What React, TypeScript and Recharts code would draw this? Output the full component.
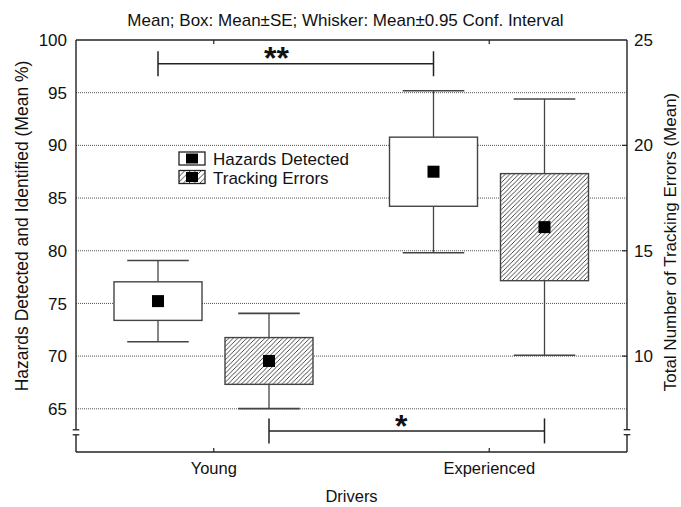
import React from "react";
import { ComposedChart, Bar, XAxis, YAxis, CartesianGrid, Legend } from "recharts";

// values
const categories = ["Young", "Experienced"];
const hazardsMean = [75.22, 87.5];
const hazardsSE = [1.83, 3.28];
const hazardsCI = [3.85, 7.69];
const trackingMean = [9.77, 16.12];
const trackingSE = [1.11, 2.54];
const trackingCI = [2.26, 6.08];

const leftTicks = [65, 70, 75, 80, 85, 90, 95, 100];
const rightTicks = [10, 15, 20, 25];
const gridValues = [65, 70, 75, 80, 85, 90, 95];
const leftBreak = 62.77;
const rightBreak = 6.39;

const brackets = [
  { series: "hazards", from: 0, to: 1, level: 97.75, label: "**", labelAt: 0.43 },
  { series: "tracking", from: 0, to: 1, level: 6.45, label: "*", labelAt: 0.48 },
];

const TITLE = "Mean; Box: Mean±SE; Whisker: Mean±0.95 Conf. Interval";

// layout
const W = 681;
const H = 507;
const LEFT_W = 76;
const RIGHT_W = 54;
const PLOT_W = W - LEFT_W - RIGHT_W;
const STEP = PLOT_W / categories.length;
const FONT = "'Liberation Sans', Arial, Helvetica, sans-serif";
const INK = "#111";
const EDGE = "#444";

const rows = categories.map((name, i) => ({
  name,
  hMean: hazardsMean[i],
  hBox: [hazardsMean[i] - hazardsSE[i], hazardsMean[i] + hazardsSE[i]],
  hCI: [hazardsMean[i] - hazardsCI[i], hazardsMean[i] + hazardsCI[i]],
  tMean: trackingMean[i],
  tBox: [trackingMean[i] - trackingSE[i], trackingMean[i] + trackingSE[i]],
  tCI: [trackingMean[i] - trackingCI[i], trackingMean[i] + trackingCI[i]],
}));

const Hatch = ({ id, size = 4.5 }: { id: string; size?: number }) => (
  <defs>
    <pattern id={id} patternUnits="userSpaceOnUse" width={size} height={size}>
      <rect width={size} height={size} fill="#fff" />
      <line x1={0} y1={size} x2={size} y2={0} stroke="#333" strokeWidth={0.9} />
      <line x1={-1} y1={1} x2={1} y2={-1} stroke="#333" strokeWidth={0.9} />
      <line x1={size - 1} y1={size + 1} x2={size + 1} y2={size - 1} stroke="#333" strokeWidth={0.9} />
    </pattern>
  </defs>
);

function BoxShape(props: any) {
  const { x, y, width, height, payload, series } = props;
  const idx = categories.indexOf(payload.name);
  const isH = series === "hazards";
  const [lo, hi] = isH ? payload.hBox : payload.tBox;
  const [ciLo, ciHi] = isH ? payload.hCI : payload.tCI;
  const mean = isH ? payload.hMean : payload.tMean;

  const yHi = Math.min(y, y + height);
  const yLo = Math.max(y, y + height);
  const ppu = (yLo - yHi) / (hi - lo);
  const toPx = (v: number) => yHi + (hi - v) * ppu;

  const cx = x + width / 2;
  const cap = width * 0.35;
  const hatchId = `hatch-${series}-${idx}`;
  const yCiHi = toPx(ciHi);
  const yCiLo = toPx(ciLo);
  const yMean = toPx(mean);

  return (
    <g>
      {!isH && <Hatch id={hatchId} />}
      <line x1={cx} x2={cx} y1={yCiHi} y2={yHi} stroke={EDGE} strokeWidth={1.3} />
      <line x1={cx} x2={cx} y1={yLo} y2={yCiLo} stroke={EDGE} strokeWidth={1.3} />
      <line x1={cx - cap} x2={cx + cap} y1={yCiHi} y2={yCiHi} stroke={EDGE} strokeWidth={1.6} />
      <line x1={cx - cap} x2={cx + cap} y1={yCiLo} y2={yCiLo} stroke={EDGE} strokeWidth={1.6} />
      <rect
        x={x}
        y={yHi}
        width={width}
        height={yLo - yHi}
        fill={isH ? "#fff" : `url(#${hatchId})`}
        stroke={EDGE}
        strokeWidth={1.4}
      />
      <rect x={cx - 6} y={yMean - 6} width={12} height={12} fill="#000" />
      {brackets
        .filter((b) => b.series === series && b.to === idx)
        .map((b) => {
          const x0 = cx - (b.to - b.from) * STEP;
          const yb = toPx(b.level);
          return (
            <g key={b.label}>
              <line x1={x0} x2={cx} y1={yb} y2={yb} stroke="#222" strokeWidth={1.5} />
              <line x1={x0} x2={x0} y1={yb - 12.5} y2={yb + 12.5} stroke="#222" strokeWidth={1.5} />
              <line x1={cx} x2={cx} y1={yb - 12.5} y2={yb + 12.5} stroke="#222" strokeWidth={1.5} />
              <text
                x={x0 + b.labelAt * (cx - x0)}
                y={yb + 5.6}
                textAnchor="middle"
                fontSize={32}
                fontWeight="bold"
                fill={INK}
              >
                {b.label}
              </text>
            </g>
          );
        })}
    </g>
  );
}

const AxisBreak = ({ x, y }: { x: number; y: number }) => (
  <g>
    <rect x={x - 3.5} y={y - 2.5} width={7} height={5} fill="#fff" />
    <line x1={x - 3.3} x2={x + 3.3} y1={y - 2.5} y2={y - 2.5} stroke="#222" strokeWidth={1.3} />
    <line x1={x - 3.3} x2={x + 3.3} y1={y + 2.5} y2={y + 2.5} stroke="#222" strokeWidth={1.3} />
  </g>
);

function LeftTick({ x, y, payload }: any) {
  const axisX = x + 9;
  if (payload.value === leftBreak) return <AxisBreak x={axisX} y={y} />;
  return (
    <text x={x} y={y} dy="0.36em" textAnchor="end" fontSize={17} fill={INK}>
      {payload.value}
    </text>
  );
}

function RightTick({ x, y, payload }: any) {
  const axisX = x - 6;
  if (payload.value === rightBreak) return <AxisBreak x={axisX} y={y} />;
  return (
    <g>
      {payload.value !== 25 && (
        <line x1={axisX - 5} x2={axisX} y1={y} y2={y} stroke="#222" strokeWidth={1.2} />
      )}
      <text x={x + 1} y={y} dy="0.36em" textAnchor="start" fontSize={17} fill={INK}>
        {payload.value}
      </text>
    </g>
  );
}

function BottomTick({ x, y, payload }: any) {
  const axisY = y - 22;
  return (
    <g>
      <line x1={x} x2={x} y1={axisY} y2={axisY - 4} stroke="#222" strokeWidth={1.2} />
      <text x={x} y={axisY + 22} textAnchor="middle" fontSize={16.5} fill={INK}>
        {payload.value}
      </text>
    </g>
  );
}

function TopTick({ x, y }: any) {
  return <line x1={x} x2={x} y1={y} y2={y + 4} stroke="#222" strokeWidth={1.2} />;
}

function LegendBox() {
  return (
    <svg width={190} height={40} style={{ display: "block" }}>
      <Hatch id="hatch-legend" size={5.5} />
      <rect x={1} y={2} width={26} height={13} fill="#fff" stroke="#222" strokeWidth={1.3} />
      <rect x={8} y={3.5} width={12} height={10} fill="#000" />
      <text x={35} y={15} fontSize={17} fill={INK} fontFamily={FONT}>
        Hazards Detected
      </text>
      <rect x={1} y={20.5} width={26} height={13} fill="url(#hatch-legend)" stroke="#222" strokeWidth={1.3} />
      <rect x={8} y={22} width={12} height={10} fill="#000" />
      <text x={35} y={33.5} fontSize={17} fill={INK} fontFamily={FONT}>
        Tracking Errors
      </text>
    </svg>
  );
}

const frame = { stroke: "#222", strokeWidth: 1.4 };

export default function App() {
  return (
    <div style={{ position: "absolute", left: 0, top: 0, width: W, height: H, background: "#fff", fontFamily: FONT }}>
      <div
        style={{
          position: "absolute",
          left: 0,
          top: 11,
          width: 691,
          textAlign: "center",
          fontSize: 17,
          lineHeight: "20px",
          color: INK,
          whiteSpace: "nowrap",
        }}
      >
        {TITLE}
      </div>
      <ComposedChart
        width={W}
        height={H}
        data={rows}
        margin={{ top: 39, right: 0, bottom: 0, left: 0 }}
        barSize={88}
        barGap={23}
        style={{ fontFamily: FONT }}
      >
        <CartesianGrid
          yAxisId="left"
          vertical={false}
          horizontalValues={gridValues}
          stroke="#555"
          strokeWidth={1}
          strokeDasharray="1 1"
        />
        <XAxis
          dataKey="name"
          height={55}
          axisLine={frame}
          tickLine={false}
          tickSize={0}
          tickMargin={22}
          tick={<BottomTick />}
          label={{
            content: () => (
              <text x={LEFT_W + PLOT_W / 2} y={501.5} textAnchor="middle" fontSize={16.5} fill={INK}>
                Drivers
              </text>
            ),
          }}
        />
        <XAxis
          xAxisId="top"
          dataKey="name"
          orientation="top"
          height={1}
          axisLine={frame}
          tickLine={false}
          tickSize={0}
          tickMargin={0}
          tick={<TopTick />}
        />
        <YAxis
          yAxisId="left"
          width={LEFT_W}
          domain={[60.9, 100]}
          ticks={[leftBreak, ...leftTicks]}
          interval={0}
          allowDataOverflow
          axisLine={frame}
          tickLine={false}
          tickSize={0}
          tickMargin={9}
          tick={<LeftTick />}
          label={{
            content: () => (
              <text
                x={22}
                y={226}
                transform="rotate(-90, 22, 226)"
                textAnchor="middle"
                dominantBaseline="central"
                fontSize={17.5}
                fill={INK}
              >
                Hazards Detected and Identified (Mean %)
              </text>
            ),
          }}
        />
        <YAxis
          yAxisId="right"
          orientation="right"
          width={RIGHT_W}
          domain={[5.45, 25]}
          ticks={[rightBreak, ...rightTicks]}
          interval={0}
          allowDataOverflow
          axisLine={frame}
          tickLine={false}
          tickSize={0}
          tickMargin={6}
          tick={<RightTick />}
          label={{
            content: () => (
              <text
                x={670}
                y={242}
                transform="rotate(-90, 670, 242)"
                textAnchor="middle"
                dominantBaseline="central"
                fontSize={17}
                fill={INK}
              >
                Total Number of Tracking Errors (Mean)
              </text>
            ),
          }}
        />
        <Legend
          content={<LegendBox />}
          layout="vertical"
          align="center"
          verticalAlign="middle"
          wrapperStyle={{ left: 178, top: 150, width: 190 }}
        />
        <Bar
          yAxisId="left"
          dataKey="hBox"
          name="Hazards Detected"
          isAnimationActive={false}
          shape={(p: any) => <BoxShape {...p} series="hazards" />}
        />
        <Bar
          yAxisId="right"
          dataKey="tBox"
          name="Tracking Errors"
          isAnimationActive={false}
          shape={(p: any) => <BoxShape {...p} series="tracking" />}
        />
      </ComposedChart>
    </div>
  );
}
